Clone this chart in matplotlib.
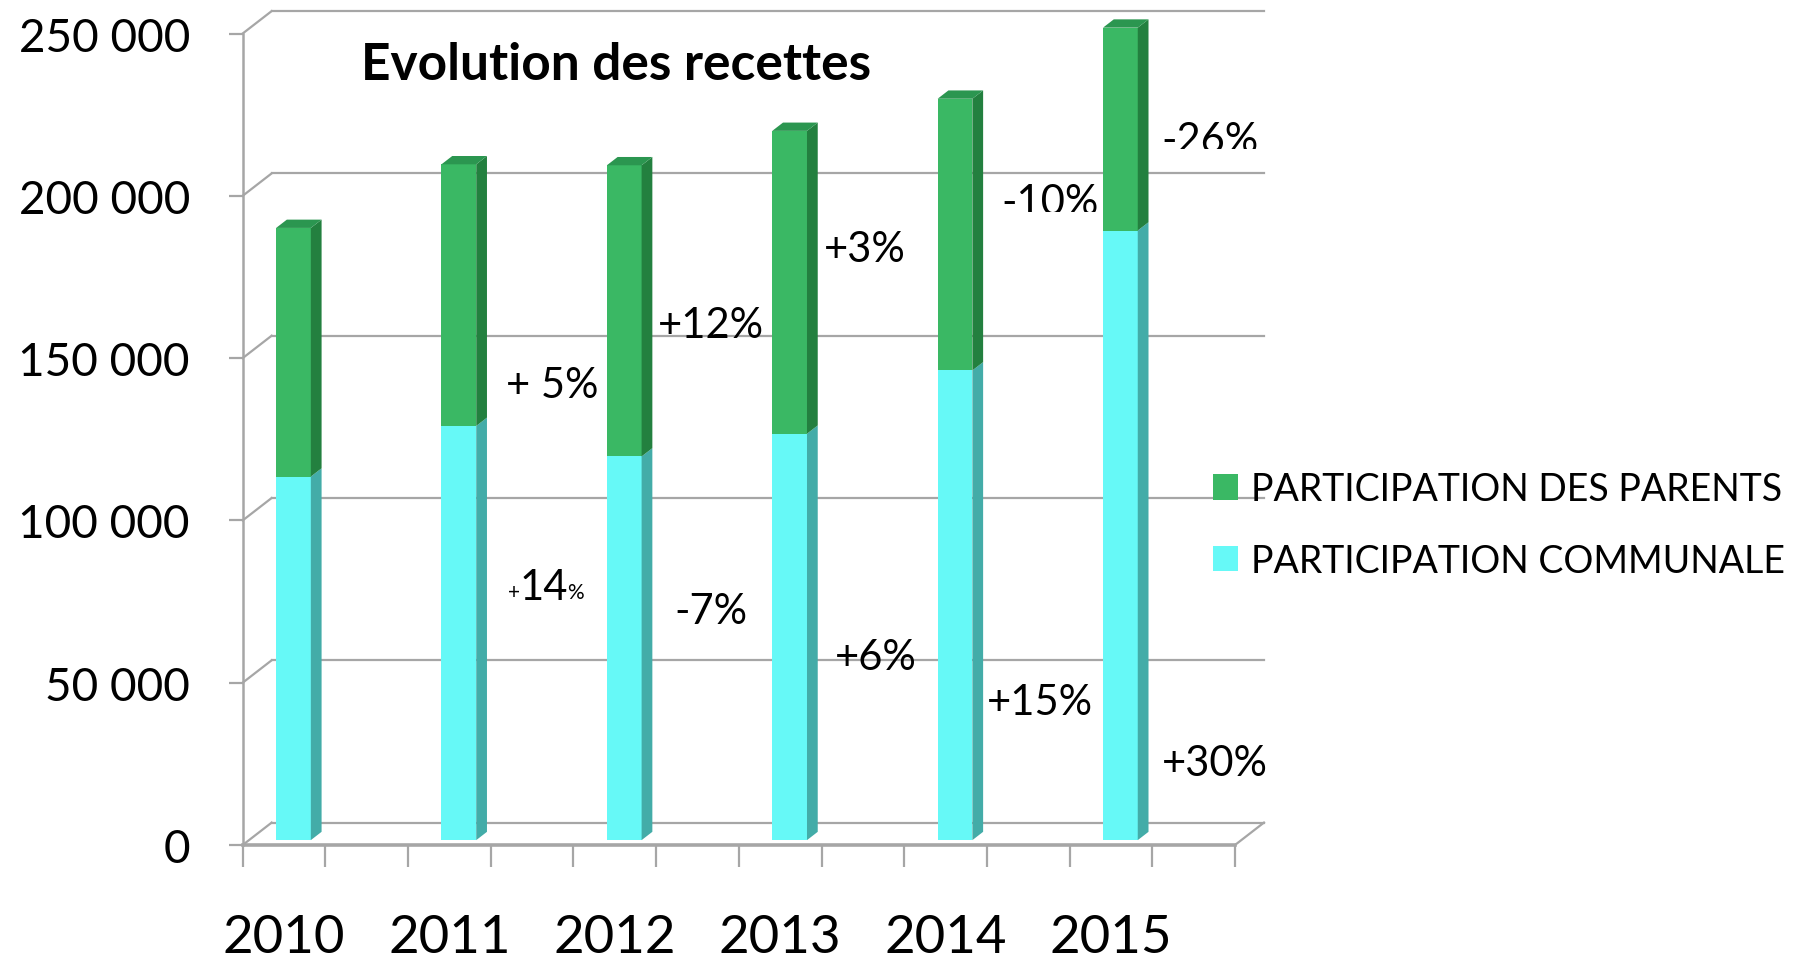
import matplotlib
matplotlib.use("Agg")
import matplotlib.pyplot as plt
from matplotlib.patches import Polygon, Rectangle

# ---- data ----------------------------------------------------------------
years = ["2010", "2011", "2012", "2013", "2014", "2015"]
communal = [112000, 127600, 118200, 125200, 144700, 187800]
parents = [76600, 80600, 89700, 93300, 83700, 62500]
y_ticks = [0, 50000, 100000, 150000, 200000, 250000]
parents_pct = ["+ 5%", "+12%", "+3%", "-10%", "-26%"]
communal_pct = ["+14%", "-7%", "+6%", "+15%", "+30%"]

# ---- look ----------------------------------------------------------------
FONT = ["Lato", "DejaVu Sans"]
GRID = "#a6a6a6"
GREEN, GREEN_SIDE, GREEN_TOP = "#3ab864", "#23803f", "#2b9650"
CYAN, CYAN_SIDE = "#66f9f7", "#43aca8"

WALL_DX, WALL_DV = 0.175, 6900      # depth of walls (category units, value units)
BAR_DX, BAR_DV = 0.065, 2560        # depth of bars
BAR_W = 0.21
BAR_OFF = 0.307                     # bar centre inside each category
BASE = 1500

plt.rcParams["font.family"] = FONT

fig = plt.figure(figsize=(17.98, 9.62), dpi=100)
ax = fig.add_axes([242.7 / 1798, (962 - 846) / 962, (1235 - 242.7) / 1798, 811.5 / 962])
ax.set_xlim(0, len(years))
ax.set_ylim(0, 250000)
ax.patch.set_visible(False)

# walls: back gridlines + side-wall diagonals
for v in y_ticks:
    ax.plot([WALL_DX, len(years) + WALL_DX], [v + WALL_DV, v + WALL_DV],
            color=GRID, lw=1.6, clip_on=False, zorder=1)
    ax.plot([0, WALL_DX], [v, v + WALL_DV], color=GRID, lw=1.6, clip_on=False, zorder=1)
# floor right edge
ax.plot([len(years), len(years) + WALL_DX], [0, WALL_DV], color=GRID, lw=1.6,
        clip_on=False, zorder=1)

# bars
xs = [i + BAR_OFF for i in range(len(years))]
tops = [c + p for c, p in zip(communal, parents)]
b1 = ax.bar(xs, communal, BAR_W, bottom=BASE, color=CYAN, zorder=3, clip_on=False,
            label="PARTICIPATION COMMUNALE")
b2 = ax.bar(xs, parents, BAR_W, bottom=[BASE + c for c in communal], color=GREEN,
            zorder=3, clip_on=False, label="PARTICIPATION DES PARENTS")
for x, c, t in zip(xs, communal, tops):
    r = x + BAR_W / 2
    l = x - BAR_W / 2
    lo, mid, hi = BASE, BASE + c, BASE + t
    ax.add_patch(Polygon([(r, lo), (r + BAR_DX, lo + BAR_DV), (r + BAR_DX, mid + BAR_DV), (r, mid)],
                         closed=True, fc=CYAN_SIDE, ec="none", zorder=3, clip_on=False))
    ax.add_patch(Polygon([(r, mid), (r + BAR_DX, mid + BAR_DV), (r + BAR_DX, hi + BAR_DV), (r, hi)],
                         closed=True, fc=GREEN_SIDE, ec="none", zorder=3, clip_on=False))
    ax.add_patch(Polygon([(l, hi), (r, hi), (r + BAR_DX, hi + BAR_DV), (l + BAR_DX, hi + BAR_DV)],
                         closed=True, fc=GREEN_TOP, ec="none", zorder=3, clip_on=False))

# axes: front spine, floor front edge, ticks
for s in ("top", "right"):
    ax.spines[s].set_visible(False)
for s in ("left", "bottom"):
    ax.spines[s].set_color(GRID)
    ax.spines[s].set_linewidth(1.8)
    ax.spines[s].set_zorder(2)
ax.spines["bottom"].set_linewidth(2.6)

ax.set_yticks(y_ticks, [f"{v:,}".replace(",", " ") for v in y_ticks])
ax.tick_params(axis="y", length=10, width=1.6, color=GRID, pad=28, labelsize=33)
ax.set_xticks([i * 0.5 for i in range(2 * len(years) + 1)], [""] * (2 * len(years) + 1))
ax.tick_params(axis="x", which="major", length=16, width=1.6, color=GRID)
ax.set_xticks([i + 0.25 for i in range(len(years))], years, minor=True)
ax.tick_params(axis="x", which="minor", length=0, pad=50, labelsize=38)

# title
fig.text(361 / 1798, 1 - 66 / 962, "Evolution des recettes", fontsize=37,
         fontweight="bold", ha="left", va="center")

# growth annotations
parents_pos = [(1.87, 141800), (2.83, 160300), (3.76, 183700), (4.88, 198200), (5.85, 217300)]
communal_pos = [(2.83, 72100), (3.83, 58000), (4.82, 44100), (5.88, 25300)]
clip_at = {3: 195000, 4: 214300}    # these two labels are cut off at the bottom
for k, (lab, (x, y)) in enumerate(zip(parents_pct, parents_pos)):
    t = ax.text(x, y, lab, fontsize=30, ha="center", va="center", zorder=5)
    if k in clip_at:
        t.set_clip_on(True)
        t.set_clip_path(Rectangle((x - 1, clip_at[k]), 2, 200000, transform=ax.transData))

# "+14%" has a small plus and percent sign
x14, y14 = 1.82, 79500
ax.text(x14, y14, communal_pct[0][1:-1], fontsize=30, ha="center", va="center", zorder=5)
ax.annotate("+", (x14, y14), xytext=(-17, -4), textcoords="offset points",
            fontsize=15, ha="right", va="center", zorder=5)
ax.annotate("%", (x14, y14), xytext=(17, -4), textcoords="offset points",
            fontsize=15, ha="left", va="center", zorder=5)
for lab, (x, y) in zip(communal_pct[1:], communal_pos):
    ax.text(x, y, lab, fontsize=30, ha="center", va="center", zorder=5)

# legend
ax.legend(handles=[b2, b1], loc="center left", bbox_to_anchor=(1213 / 1798, 436 / 962),
          bbox_transform=fig.transFigure, frameon=False, fontsize=27, borderpad=0,
          borderaxespad=0, handlelength=0.67, handleheight=0.67, handletextpad=0.35,
          labelspacing=0.95)

fig.savefig("out.png", dpi=100)
